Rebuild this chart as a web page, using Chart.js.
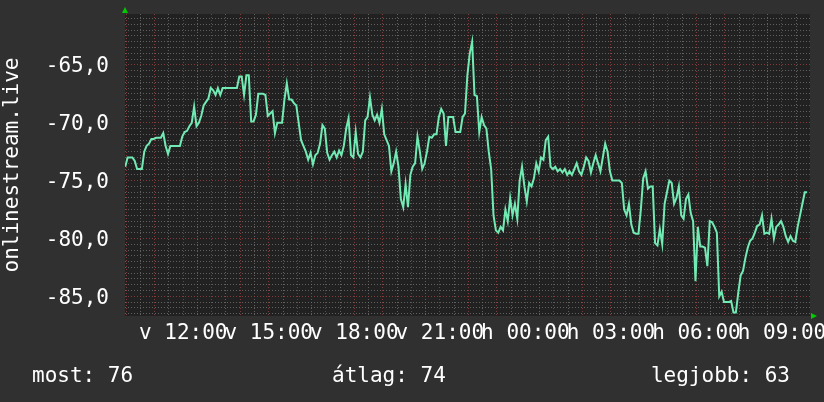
<!DOCTYPE html>
<html><head><meta charset="utf-8">
<script src="https://cdn.jsdelivr.net/npm/chart.js@4.4.0/dist/chart.umd.min.js"></script>
<style>html,body{margin:0;padding:0;background:#303030;overflow:hidden}</style>
</head><body>
<canvas id="c" width="824" height="402"></canvas>
<script>
// Time axis: minutes since Sunday (v) 00:00; one sample every 5 minutes over 24 h
const startMinute = 598;
const stepMinutes = 5;
const xMin = 597.5, xMax = 2039;
const dayLetters = ['v', 'h'];
const yAxisTitle = 'onlinestream.live';
const yMin = -86.7, yMax = -60.6;
const legendLabels = ['most', 'átlag', 'legjobb'];
const legendValues = [76, 74, 63];
const signal = [
  -73.8,-73.0,-73.0,-73.0,-73.3,-74.0,-74.0,-74.0,-72.5,-72.0,-71.8,-71.4,
  -71.4,-71.3,-71.3,-71.3,-70.9,-72.0,-72.7,-72.0,-72.0,-72.0,-72.0,-72.0,
  -71.2,-70.8,-70.7,-70.3,-70.0,-68.6,-70.3,-70.0,-69.4,-68.5,-68.2,-67.9,
  -67.0,-67.2,-67.6,-67.0,-67.6,-67.0,-67.0,-67.0,-67.0,-67.0,-67.0,-67.0,
  -66.0,-66.0,-67.6,-65.9,-65.9,-69.9,-69.9,-69.3,-67.5,-67.5,-67.5,-67.6,
  -69.4,-69.2,-69.0,-70.9,-70.0,-70.0,-70.0,-68.0,-66.6,-68.0,-68.0,-68.3,
  -68.5,-70.0,-71.5,-72.0,-72.5,-73.2,-72.6,-73.6,-72.8,-72.6,-71.8,-70.2,
  -70.5,-72.6,-73.2,-72.8,-72.5,-73.0,-72.4,-72.8,-72.0,-70.5,-69.6,-72.8,
  -73.0,-70.8,-72.7,-73.0,-72.5,-69.8,-69.5,-67.8,-69.3,-69.8,-69.3,-70.0,
  -68.8,-71.0,-71.5,-72.0,-74.2,-73.5,-72.5,-73.8,-76.6,-77.3,-75.3,-77.3,
  -74.5,-73.8,-73.5,-71.2,-72.5,-74.0,-73.5,-72.5,-71.2,-71.3,-71.0,-71.0,
  -69.5,-68.8,-69.2,-72.0,-69.5,-69.5,-69.5,-70.8,-70.8,-70.8,-69.5,-69.2,
  -65.9,-64.0,-63.0,-67.6,-67.7,-70.8,-69.5,-70.2,-70.5,-72.5,-74.0,-78.0,
  -79.3,-79.5,-79.0,-79.3,-77.5,-78.5,-76.5,-78.0,-77.0,-78.3,-75.0,-73.8,
  -75.5,-76.8,-75.2,-75.5,-74.8,-73.5,-74.2,-73.0,-73.2,-71.5,-71.2,-73.8,
  -74.0,-73.8,-74.2,-74.0,-74.3,-74.0,-74.5,-74.2,-74.5,-74.0,-73.5,-74.2,
  -74.5,-73.8,-73.0,-73.3,-74.3,-73.5,-72.8,-73.5,-74.2,-73.0,-71.8,-72.5,
  -74.2,-75.0,-75.0,-75.0,-75.0,-75.2,-77.5,-78.0,-77.0,-78.8,-79.5,-79.6,
  -79.6,-77.5,-74.8,-74.2,-75.7,-75.5,-75.5,-80.4,-80.6,-79.2,-80.5,-77.0,
  -76.0,-75.0,-75.2,-77.0,-76.5,-75.5,-78.0,-78.3,-76.6,-76.2,-77.8,-78.5,
  -83.7,-79.0,-80.7,-80.7,-80.8,-82.4,-78.5,-78.6,-79.0,-79.5,-85.0,-84.6,
  -85.5,-85.5,-85.5,-85.4,-86.4,-86.4,-84.7,-83.2,-82.8,-81.7,-80.8,-80.2,
  -80.0,-79.5,-78.9,-78.8,-78.0,-79.6,-79.5,-79.6,-78.3,-80.0,-79.0,-78.8,
  -78.5,-79.0,-79.8,-80.3,-79.8,-80.2,-80.3,-79.0,-78.0,-77.0,-76.0,-76.0
];

const points = signal.map((v, i) => ({ x: startMinute + i * stepMinutes, y: v }));

const FONT = 'DejaVu Sans Mono';
const MINOR = 'rgba(118,118,118,0.75)';
const MAJOR = 'rgba(150,62,62,0.85)';

const frame = {
  id: 'frame',
  beforeDraw(chart) {
    const { ctx, chartArea: a } = chart;
    ctx.save();
    ctx.fillStyle = '#303030';
    ctx.fillRect(0, 0, chart.width, chart.height);
    ctx.fillStyle = '#212121';
    ctx.fillRect(a.left, a.top, a.right - a.left, a.bottom - a.top);
    ctx.restore();
  },
  afterDraw(chart) {
    const { ctx, chartArea: a } = chart;
    ctx.save();
    ctx.fillStyle = '#00cc00';
    ctx.beginPath();
    ctx.moveTo(a.left - 3, a.top - 1);
    ctx.lineTo(a.left + 3, a.top - 1);
    ctx.lineTo(a.left, a.top - 7);
    ctx.closePath();
    ctx.fill();
    ctx.beginPath();
    ctx.moveTo(a.right + 1, a.bottom - 3);
    ctx.lineTo(a.right + 1, a.bottom + 3);
    ctx.lineTo(a.right + 7, a.bottom);
    ctx.closePath();
    ctx.fill();
    ctx.fillStyle = '#ffffff';
    ctx.font = '21px "' + FONT + '"';
    ctx.textBaseline = 'alphabetic';
    const y = chart.height - 20;
    ctx.textAlign = 'left';
    ctx.fillText(legendLabels[0] + ': ' + legendValues[0], 32, y);
    ctx.fillText(legendLabels[1] + ': ' + legendValues[1], 332, y);
    ctx.textAlign = 'right';
    ctx.fillText(legendLabels[2] + ': ' + legendValues[2], chart.width - 34, y);
    ctx.restore();
  }
};

const pad2 = n => String(n).padStart(2, '0');

new Chart(document.getElementById('c'), {
  type: 'line',
  data: {
    datasets: [{
      data: points,
      borderColor: '#72eab4',
      borderWidth: 2,
      pointRadius: 0,
      fill: false,
      tension: 0
    }]
  },
  options: {
    responsive: false,
    animation: false,
    devicePixelRatio: 1,
    layout: { padding: { left: 0, right: 14, top: 14, bottom: 0 } },
    plugins: { legend: { display: false }, tooltip: { enabled: false } },
    scales: {
      x: {
        type: 'linear',
        min: xMin,
        max: xMax,
        afterFit(s) { s.height = 86; s.paddingLeft = 0; s.paddingRight = 0; },
        border: { display: false, dash: [1, 2] },
        grid: {
          drawTicks: false,
          lineWidth: 1,
          color: c => (c.tick && Math.round(c.tick.value) % 60 === 0) ? MAJOR : MINOR
        },
        ticks: {
          stepSize: 30,
          includeBounds: false,
          autoSkip: false,
          maxRotation: 0,
          minRotation: 0,
          padding: 5,
          color: '#ffffff',
          font: { family: FONT, size: 21 },
          callback: v => {
            const m = Math.round(v);
            if (m % 180 !== 0) return '';
            const d = Math.floor(m / 1440);
            const h = (m % 1440) / 60;
            return dayLetters[d] + ' ' + pad2(h) + ':00';
          }
        }
      },
      y: {
        min: yMin,
        max: yMax,
        afterFit(s) { s.width = 125; s.paddingTop = 0; s.paddingBottom = 0; },
        border: { display: false, dash: [1, 2] },
        grid: {
          drawTicks: false,
          lineWidth: 1,
          color: c => (c.tick && Math.abs(c.tick.value % 5) < 1e-6) ? MAJOR : MINOR
        },
        title: {
          display: true,
          text: yAxisTitle,
          color: '#ffffff',
          font: { family: FONT, size: 21 },
          padding: { top: 0, bottom: 0 }
        },
        ticks: {
          stepSize: 0.5,
          includeBounds: false,
          autoSkip: false,
          padding: 16,
          labelOffset: 2,
          color: '#ffffff',
          font: { family: FONT, size: 21 },
          callback: v => Math.abs(v % 5) < 1e-6 ? v.toFixed(1).replace('.', ',') : ''
        }
      }
    }
  },
  plugins: [frame]
});
</script>
</body></html>
